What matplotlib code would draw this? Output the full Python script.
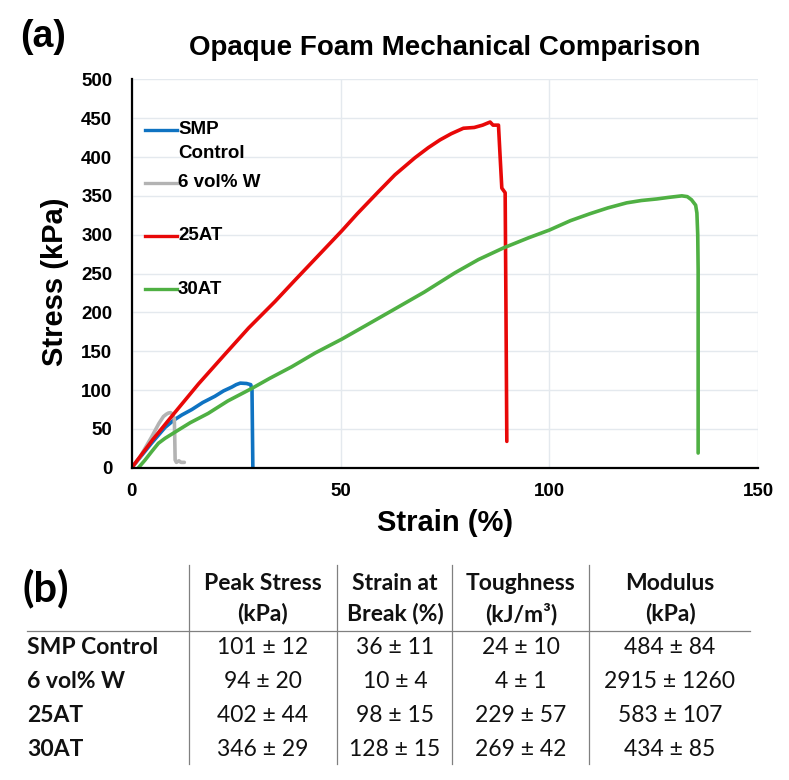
import matplotlib
matplotlib.use('Agg')
import matplotlib.pyplot as plt
from matplotlib.lines import Line2D

plt.rcParams['font.family'] = ['Liberation Sans', 'DejaVu Sans']

# stress-strain curves
strain_smp = [0, 1.5, 3, 4.8, 6.4, 8, 10, 12, 14.4, 17, 19.9, 22, 24, 25, 26, 27.5,
              28.5, 28.8, 28.9, 29.0]
stress_smp = [0, 10, 20, 32, 42, 52, 61, 68, 75, 84, 92, 99, 104, 107, 109, 108.5,
              107, 100, 50, 1]

strain_w = [0, 2, 4.8, 6.5, 7.6, 8.3, 8.8, 9.3, 9.8, 10.2, 10.3, 10.4, 10.7, 11.3, 11.8, 12.6]
stress_w = [0, 14, 40, 57, 66, 69, 70.5, 71, 69, 63, 40, 10, 7, 9, 7, 7]

strain_25 = [0, 5, 10, 16, 22.3, 28, 34.3, 39, 44.3, 50.3, 54, 59, 63, 67.8, 71, 73.8,
             76.5, 79.4, 82, 84, 85.8, 86.5, 87.8, 88.2, 88.6, 89.4, 89.6, 89.8]
stress_25 = [0, 36, 69, 108, 146, 180, 214, 241, 271, 305, 327, 355, 377, 399, 412, 422,
             430, 437, 438, 441, 445, 441, 441, 400, 360, 354, 200, 34]

strain_30 = [1.6, 3.2, 4.8, 6.4, 8, 11.2, 14, 18.3, 23, 28.7, 33, 38.3, 44, 50.3, 56,
             62.2, 70, 77.4, 83, 89, 95, 100, 105, 109.7, 114, 118.5, 122, 125.7, 128.5,
             131.7, 133, 134, 135, 135.3, 135.5, 135.6, 135.6]
stress_30 = [0, 10, 21, 31.6, 38, 48.7, 58, 70, 86, 102, 115, 130, 148, 165.6, 183,
             202, 226, 251, 268, 283, 296, 306, 318, 327, 334.5, 341, 344, 346, 348,
             350, 349, 345, 338, 328, 300, 255, 19]

series_names = ['SMP\nControl', '6 vol% W', '25AT', '30AT']
colors = ['#0f73c2', '#b3b3b3', '#e80808', '#4fb043']

# table (b)
row_labels = ['SMP Control', '6 vol% W', '25AT', '30AT']
col_head1 = ['Peak Stress', 'Strain at', 'Toughness', 'Modulus']
col_head2 = ['(kPa)', 'Break (%)', '(kJ/m³)', '(kPa)']
peak_mean = [101, 94, 402, 346]
peak_sd = [12, 20, 44, 29]
break_mean = [36, 10, 98, 128]
break_sd = [11, 4, 15, 15]
tough_mean = [24, 4, 229, 269]
tough_sd = [10, 1, 57, 42]
mod_mean = [484, 2915, 583, 434]
mod_sd = [84, 1260, 107, 85]

W, H = 789, 780
fig = plt.figure(figsize=(W / 100, H / 100), dpi=100)
ax = fig.add_axes([131.7 / W, 1 - 467.8 / H, 626.6 / W, 388.5 / H])

curves = [(strain_smp, stress_smp), (strain_w, stress_w),
          (strain_25, stress_25), (strain_30, stress_30)]
for (xs, ys), c in zip(curves, colors):
    ax.plot(xs, ys, color=c, lw=2.6, solid_capstyle='round', solid_joinstyle='round')

ax.set_xlim(0, 150)
ax.set_ylim(0, 500)
ax.set_xticks([0, 50, 100, 150])
ax.set_yticks(range(0, 501, 50))
ax.grid(True, color='#e4e9ee', lw=1.0)
ax.set_axisbelow(True)
for s in ['top', 'right']:
    ax.spines[s].set_visible(False)
for s in ['left', 'bottom']:
    ax.spines[s].set_linewidth(1.6)
    ax.spines[s].set_color('black')
ax.tick_params(length=0, labelsize=13.5)
ax.tick_params(axis='y', pad=14)
ax.tick_params(axis='x', pad=11)
for lab in ax.get_xticklabels() + ax.get_yticklabels():
    lab.set_fontweight('bold')

ax.set_xlabel('Strain (%)', fontsize=21, fontweight='bold')
ax.xaxis.set_label_coords(0.5, (467.8 - 523) / 388.5)
ax.xaxis.label.set_va('center')
ax.set_ylabel('Stress (kPa)', fontsize=21, fontweight='bold')
ax.yaxis.set_label_coords((55 - 131.7) / 626.6, (467.8 - 282) / 388.5)
ax.yaxis.label.set_va('center')

# legend, excel style at upper left
leg_y = [130, 182.7, 235.7, 289.3]
for name, c, py in zip(series_names, colors, leg_y):
    yy = (467.8 - py) / 388.5
    ax.plot([0.0212, 0.0723], [yy, yy], color=c, lw=2.4, transform=ax.transAxes)
    ax.text(0.0739, yy, name.split('\n')[0], transform=ax.transAxes, va='center',
            ha='left', fontsize=13.5, fontweight='bold')
    if '\n' in name:
        ax.text(0.0739, (467.8 - 154) / 388.5, name.split('\n')[1], transform=ax.transAxes,
                va='center', ha='left', fontsize=13.5, fontweight='bold')

fig.text(445 / W, 1 - 48 / H, 'Opaque Foam Mechanical Comparison', ha='center', va='center',
         fontsize=20, fontweight='bold')
fig.text(20 / W, 1 - 37 / H, '(a)', ha='left', va='center', fontsize=27, fontweight='bold')

# ---- table (b) ----
tfont = ['Lato', 'DejaVu Sans']
fig.text(22 / W, 1 - 588 / H, '(b)', ha='left', va='center', fontsize=30,
         fontweight='bold', family=tfont)

col_lines = [189, 337, 452, 589]
col_centers = [263, 395, 521, 670]
gray_line = '#808080'
for px in col_lines:
    fig.add_artist(Line2D([px / W, px / W], [1 - 565 / H, 1 - 764 / H],
                          transform=fig.transFigure, color=gray_line, lw=0.9))
fig.add_artist(Line2D([27 / W, 750 / W], [1 - 630.5 / H, 1 - 630.5 / H],
                      transform=fig.transFigure, color=gray_line, lw=0.9))

for cx, h1, h2 in zip(col_centers, col_head1, col_head2):
    fig.text(cx / W, 1 - 584 / H, h1, ha='center', va='center', fontsize=16.5,
             fontweight='bold', family=tfont, color='#111111')
    fig.text(cx / W, 1 - 614 / H, h2, ha='center', va='center', fontsize=16.5,
             fontweight='bold', family=tfont, color='#111111')

row_y = [648, 682, 715, 749]
cols = [(peak_mean, peak_sd), (break_mean, break_sd), (tough_mean, tough_sd), (mod_mean, mod_sd)]
for i, (lab, py) in enumerate(zip(row_labels, row_y)):
    fig.text(27 / W, 1 - py / H, lab, ha='left', va='center', fontsize=16.5,
             fontweight='bold', family=tfont, color='#111111')
    for cx, (means, sds) in zip(col_centers, cols):
        fig.text(cx / W, 1 - py / H, f'{means[i]} ± {sds[i]}', ha='center', va='center',
                 fontsize=16.5, family=tfont, color='#111111')

fig.savefig('out.png', dpi=100)
